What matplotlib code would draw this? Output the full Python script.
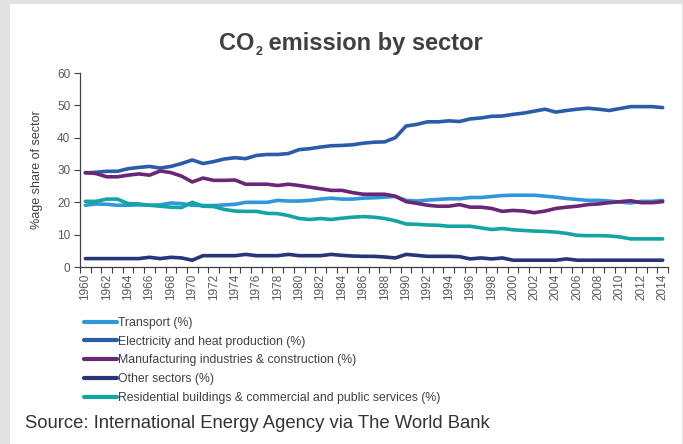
import matplotlib
matplotlib.use("Agg")
import matplotlib.pyplot as plt
from matplotlib.patches import Rectangle
from matplotlib.ticker import FixedLocator, NullFormatter

years = list(range(1960, 2015))

transport = [19.1, 19.5, 19.4, 19.1, 19.1, 19.2, 19.1, 19.2, 19.8, 19.6,
             19.1, 19.0, 19.0, 19.2, 19.4, 20.0, 20.0, 20.0, 20.6, 20.4,
             20.4, 20.6, 21.0, 21.3, 21.0, 21.0, 21.3, 21.4, 21.6, 21.8,
             20.6, 20.4, 20.7, 20.9, 21.1, 21.1, 21.5, 21.5, 21.8, 22.1,
             22.2, 22.2, 22.2, 21.9, 21.6, 21.2, 20.9, 20.6, 20.6, 20.4,
             20.1, 19.8, 20.3, 20.3, 20.6]
electricity = [29.1, 29.3, 29.6, 29.6, 30.4, 30.8, 31.1, 30.6, 31.1, 32.0,
               33.1, 32.0, 32.6, 33.4, 33.8, 33.5, 34.5, 34.8, 34.8, 35.1,
               36.3, 36.6, 37.1, 37.5, 37.6, 37.8, 38.3, 38.6, 38.7, 40.0,
               43.6, 44.1, 44.9, 44.9, 45.2, 45.0, 45.8, 46.1, 46.6, 46.7,
               47.2, 47.6, 48.2, 48.8, 47.9, 48.4, 48.8, 49.1, 48.8, 48.4,
               49.0, 49.6, 49.6, 49.6, 49.3]
manufacturing = [29.2, 28.9, 27.9, 27.9, 28.4, 28.8, 28.4, 29.7, 29.2, 28.1,
                 26.3, 27.5, 26.8, 26.8, 26.9, 25.6, 25.6, 25.6, 25.2, 25.6,
                 25.2, 24.7, 24.2, 23.7, 23.7, 23.0, 22.5, 22.5, 22.5, 21.9,
                 20.2, 19.7, 19.1, 18.8, 18.8, 19.3, 18.5, 18.5, 18.1, 17.2,
                 17.5, 17.3, 16.8, 17.3, 18.1, 18.5, 18.8, 19.3, 19.5, 19.9,
                 20.2, 20.5, 19.9, 19.9, 20.2]
other = [2.6, 2.6, 2.6, 2.6, 2.6, 2.6, 3.0, 2.6, 3.0, 2.8,
         2.1, 3.5, 3.5, 3.5, 3.5, 3.9, 3.5, 3.5, 3.5, 3.9,
         3.5, 3.5, 3.5, 3.9, 3.6, 3.4, 3.3, 3.3, 3.1, 2.8,
         3.9, 3.6, 3.3, 3.3, 3.3, 3.2, 2.5, 2.8, 2.5, 2.8,
         2.1, 2.1, 2.1, 2.1, 2.1, 2.5, 2.1, 2.1, 2.1, 2.1,
         2.1, 2.1, 2.1, 2.1, 2.1]
residential = [20.3, 20.3, 21.0, 21.0, 19.6, 19.5, 19.1, 18.8, 18.5, 18.4,
               20.0, 18.8, 18.7, 17.8, 17.3, 17.2, 17.2, 16.6, 16.5, 15.9,
               15.0, 14.7, 15.0, 14.7, 15.1, 15.4, 15.6, 15.4, 15.0, 14.3,
               13.3, 13.2, 13.0, 12.9, 12.6, 12.6, 12.6, 12.1, 11.6, 11.9,
               11.5, 11.3, 11.1, 11.0, 10.8, 10.4, 9.8, 9.7, 9.7, 9.6,
               9.3, 8.7, 8.7, 8.7, 8.7]

series_labels = ["Transport (%)",
                 "Electricity and heat production (%)",
                 "Manufacturing industries & construction (%)",
                 "Other sectors (%)",
                 "Residential buildings & commercial and public services (%)"]
series_values = [transport, electricity, manufacturing, other, residential]
series_colors = ["#3097d8", "#2b5caa", "#6b2777", "#283579", "#13a5a1"]

title_main = "CO"
title_sub = "2"
title_rest = " emission by sector"
y_label = "%age share of sector"
source_text = "Source: International Energy Agency via The World Bank"
y_ticks = [0, 10, 20, 30, 40, 50, 60]

plt.rcParams["font.family"] = ["Liberation Sans", "DejaVu Sans"]

W, H = 683, 444
fig = plt.figure(figsize=(W / 100, H / 100), dpi=100, facecolor="#e2e2e2")
fig.patches.append(Rectangle((10 / W, 0), (682 - 10) / W, 1 - 4 / H,
                             transform=fig.transFigure, facecolor="white",
                             edgecolor="none", zorder=-10))

ax = fig.add_axes([80 / W, 1 - 267 / H, (668 - 80) / W, (267 - 73) / H])
ax.set_facecolor("none")
ax.set_zorder(5)

x = list(range(len(years)))
for vals, lab, col in zip(series_values, series_labels, series_colors):
    ax.plot(x, vals, color=col, lw=2.6, label=lab, solid_capstyle="round",
            solid_joinstyle="round")

ax.set_xlim(-0.5, len(years) - 0.5)
ax.set_ylim(0, 60)
ax.set_yticks(y_ticks)
ax.set_yticklabels([str(v) for v in y_ticks], fontsize=8.5, color="#595959")
ax.set_xticks(x[::2])
ax.set_xticklabels([str(y) for y in years[::2]], rotation=90, fontsize=8.5,
                   color="#595959")
ax.tick_params(axis="x", which="major", length=0, pad=5)
ax.xaxis.set_minor_locator(FixedLocator([i - 0.5 for i in range(len(years) + 1)]))
ax.xaxis.set_minor_formatter(NullFormatter())
ax.tick_params(axis="x", which="minor", length=4, width=0.8, color="#404040")
ax.tick_params(axis="y", length=4, width=0.8, color="#404040", pad=3)
for s in ["top", "right"]:
    ax.spines[s].set_visible(False)
for s in ["left", "bottom"]:
    ax.spines[s].set_color("#404040")
    ax.spines[s].set_linewidth(0.9)

ax.set_ylabel(y_label, fontsize=9, color="#404040", labelpad=10)

# title composed of pieces so the subscript is small and low
title_kw = dict(fontweight="bold", color="#404040", va="baseline")
t_y = 1 - 50 / H
t1 = fig.text(219 / W, t_y, title_main, fontsize=17, ha="left", **title_kw)
fig.canvas.draw()
r = fig.canvas.get_renderer()
bb1 = t1.get_window_extent(r)
t2 = fig.text((bb1.x1 + 1) / W, t_y - 5 / H, title_sub, fontsize=9,
              ha="left", **title_kw)
bb2 = t2.get_window_extent(r)
fig.text(bb2.x1 / W, t_y, title_rest, fontsize=17, ha="left", **title_kw)

leg = fig.legend(loc="upper left", bbox_to_anchor=(84 / W, 1 - 317 / H),
                 frameon=False, prop={"size": 8.8},
                 handlelength=2.7, handletextpad=0.05, labelspacing=0.55,
                 borderpad=0, borderaxespad=0)
for t in leg.get_texts():
    t.set_color("#404040")
for l in leg.get_lines():
    l.set_linewidth(3)

fig.text(25 / W, 1 - 423 / H, source_text, ha="left", va="center",
         fontsize=13.3, color="#333333")

fig.savefig("out.png", dpi=100, facecolor=fig.get_facecolor())
